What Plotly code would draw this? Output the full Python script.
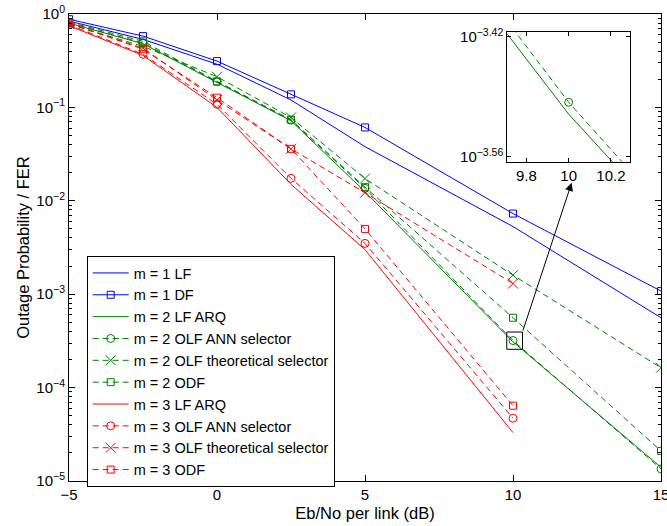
import plotly.graph_objects as go
import numpy as np

# ---------------- data ----------------
snr = [-5, -2.5, 0, 2.5, 5, 10, 15]          # Eb/No per link (dB)
snr_m3 = [-5, -2.5, 0, 2.5, 5, 10]

m1_lf = [0.84, 0.535, 0.29, 0.12, 0.038, 5.3e-3, 5.6e-4]
m1_df = [0.88, 0.58, 0.313, 0.138, 0.061, 7.3e-3, 1.08e-3]
m2_lf_arq = [0.80, 0.48, 0.185, 0.072, 0.0125, 3.09e-4, 1.4e-5]
m2_olf_ann = [0.80, 0.49, 0.188, 0.073, 0.0136, 3.19e-4, 1.35e-5]
m2_olf_theo = [0.78, 0.45, 0.213, 0.078, 0.0173, 1.6e-3, 1.63e-4]
m2_odf = [0.82, 0.51, 0.19, 0.074, 0.014, 5.6e-4, 2.1e-5]
m3_lf_arq = [0.75, 0.36, 0.10, 0.015, 3.0e-3, 3.3e-5]
m3_olf_ann = [0.77, 0.37, 0.108, 0.0174, 3.5e-3, 4.7e-5]
m3_olf_theo = [0.79, 0.43, 0.12, 0.036, 0.0122, 1.3e-3]
m3_odf = [0.80, 0.42, 0.127, 0.036, 5.0e-3, 6.4e-5]

names = ["m = 1 LF", "m = 1 DF", "m = 2 LF ARQ", "m = 2 OLF ANN selector",
         "m = 2 OLF theoretical selector", "m = 2 ODF", "m = 3 LF ARQ",
         "m = 3 OLF ANN selector", "m = 3 OLF theoretical selector", "m = 3 ODF"]

y_tickvals = [1e-5, 1e-4, 1e-3, 1e-2, 1e-1, 1]
y_ticktext = ["10<sup>\u22125</sup>", "10<sup>\u22124</sup>", "10<sup>\u22123</sup>",
              "10<sup>\u22122</sup>", "10<sup>\u22121</sup>", "10<sup>0</sup>"]
x_tickvals = [-5, 0, 5, 10, 15]

inset_xticks = [9.8, 10, 10.2]
inset_ytickexp = [-3.56, -3.42]

# ---------------- styles ----------------
BLUE = "rgb(0,0,255)"
GREEN = "rgb(0,128,0)"
RED = "rgb(255,0,0)"
DASH = "6px,4px"
FONT = "Liberation Sans, Arial, Helvetica, sans-serif"

series = [
    (snr, m1_lf, BLUE, "solid", None),
    (snr, m1_df, BLUE, "solid", "square-open"),
    (snr, m2_lf_arq, GREEN, "solid", None),
    (snr, m2_olf_ann, GREEN, DASH, "circle-open"),
    (snr, m2_olf_theo, GREEN, DASH, "x-thin-open"),
    (snr, m2_odf, GREEN, DASH, "square-open"),
    (snr_m3, m3_lf_arq, RED, "solid", None),
    (snr_m3, m3_olf_ann, RED, DASH, "circle-open"),
    (snr_m3, m3_olf_theo, RED, DASH, "x-thin-open"),
    (snr_m3, m3_odf, RED, DASH, "square-open"),
]
msize = {"square-open": 7, "circle-open": 8, "x-thin-open": 10}

fig = go.Figure()
for (xs, ys, col, dash, sym), nm in zip(series, names):
    mode = "lines+markers" if sym else "lines"
    fig.add_trace(go.Scatter(
        x=xs, y=ys, name=nm, mode=mode,
        line=dict(color=col, width=1, dash=dash),
        marker=dict(symbol=sym or "circle", size=msize.get(sym, 6),
                    color=col, line=dict(color=col, width=1)),
        xaxis="x", yaxis="y"))

# inset traces (zoom of m = 2 curves near 10 dB)
for idx in (2, 3):
    xs, ys, col, dash, sym = series[idx]
    fig.add_trace(go.Scatter(
        x=xs, y=ys, mode="lines+markers" if sym else "lines", showlegend=False,
        line=dict(color=col, width=1, dash=dash),
        marker=dict(symbol=sym or "circle", size=msize.get(sym, 6),
                    color=col, line=dict(color=col, width=1)),
        xaxis="x2", yaxis="y2"))

minor_vals = [m * 10.0 ** e for e in range(-5, 0) for m in range(2, 10)]

axis_common = dict(showline=True, linecolor="black", linewidth=1, mirror="ticks",
                   ticks="inside", tickcolor="black", showgrid=False, zeroline=False,
                   ticklabeloverflow="allow", automargin=False,
                   tickfont=dict(family=FONT, size=15, color="black"))

fig.update_layout(
    width=667, height=526,
    margin=dict(l=69, r=6, t=14, b=45, autoexpand=False),
    paper_bgcolor="white", plot_bgcolor="white",
    font=dict(family=FONT, size=15, color="black"),
    xaxis=dict(range=[-5, 15], tickmode="array", tickvals=x_tickvals,
               ticklen=6, domain=[0, 1],
               title=dict(text="Eb/No per link (dB)", font=dict(size=16.5), standoff=5),
               **axis_common),
    yaxis=dict(type="log", range=[-5, 0], tickmode="array", tickvals=y_tickvals,
               ticktext=y_ticktext, ticklen=6, domain=[0, 1],
               minor=dict(tickmode="array", tickvals=minor_vals, ticks="inside",
                          ticklen=3, tickcolor="black"),
               title=dict(text="Outage Probability / FER", font=dict(size=16.5), standoff=2),
               **axis_common),
    xaxis2=dict(range=[9.71, 10.29], tickmode="array", tickvals=inset_xticks,
                ticklen=4, domain=[0.7404, 0.9476], anchor="y2", **axis_common),
    yaxis2=dict(type="log", range=[-3.5655, -3.414], tickmode="array",
                tickvals=[10 ** e for e in inset_ytickexp],
                ticktext=["10<sup>\u2212%.2f</sup>" % (-e) for e in inset_ytickexp],
                ticklen=4, domain=[0.6837, 0.962], anchor="x2", **axis_common),
    legend=dict(x=0.0299, y=0.4818, xanchor="left", yanchor="top",
                bgcolor="white", bordercolor="black", borderwidth=1,
                font=dict(family=FONT, size=14.5, color="black"),
                itemwidth=36, tracegroupgap=0),
    showlegend=True,
)

# white background behind the inset, box around zoomed region, arrow
fig.add_shape(type="rect", xref="x2", yref="y2", x0=9.71, x1=10.29,
              y0=10 ** -3.5655, y1=10 ** -3.414, fillcolor="white",
              line=dict(width=0), layer="below")
box_x = (9.79, 10.32)
box_logy = (-3.59, -3.405)
fig.add_shape(type="rect", xref="x", yref="y", x0=box_x[0], x1=box_x[1],
              y0=10 ** box_logy[0], y1=10 ** box_logy[1],
              line=dict(color="black", width=1), layer="above")
fig.add_annotation(x=11.98, y=-1.808, ax=box_x[1], ay=box_logy[1],
                   xref="x", yref="y", axref="x", ayref="y", text="",
                   showarrow=True, arrowhead=2, arrowsize=1.6, arrowwidth=1,
                   arrowcolor="black")

fig.write_html("out.html")
